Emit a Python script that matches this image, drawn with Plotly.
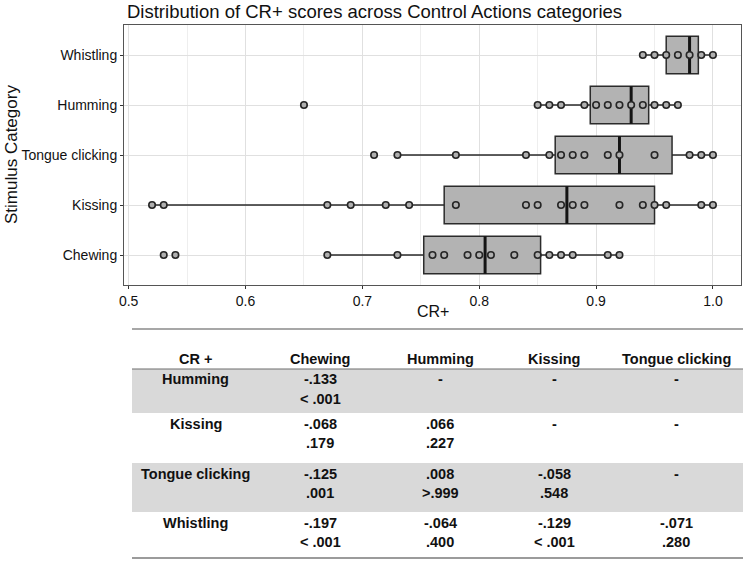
import plotly.graph_objects as go

W, H = 749, 561

# ---------------- data ----------------
categories = ["Chewing", "Kissing", "Tongue clicking", "Humming", "Whistling"]

chewing = [0.53, 0.54, 0.67, 0.73, 0.76, 0.77, 0.79, 0.80, 0.81, 0.83, 0.85, 0.86, 0.87, 0.88, 0.91, 0.92]
kissing = [0.52, 0.53, 0.67, 0.69, 0.72, 0.74, 0.78, 0.84, 0.85, 0.87, 0.88, 0.89, 0.92, 0.94, 0.95, 0.96, 0.99, 1.00]
tongue_clicking = [0.71, 0.73, 0.78, 0.84, 0.86, 0.87, 0.88, 0.89, 0.91, 0.92, 0.95, 0.98, 0.99, 1.00]
humming = [0.65, 0.85, 0.86, 0.87, 0.89, 0.90, 0.91, 0.92, 0.93, 0.94, 0.95, 0.96, 0.97]
whistling = [0.94, 0.95, 0.96, 0.97, 0.98, 0.99, 1.00]
points = [chewing, kissing, tongue_clicking, humming, whistling]

q1 = [0.7525, 0.77, 0.865, 0.895, 0.96]
median = [0.805, 0.875, 0.92, 0.93, 0.98]
q3 = [0.8525, 0.95, 0.965, 0.945, 0.9875]
lowerfence = [0.67, 0.52, 0.73, 0.85, 0.94]
upperfence = [0.92, 1.00, 1.00, 0.97, 1.00]

x_ticks = [0.5, 0.6, 0.7, 0.8, 0.9, 1.0]
x_ticklabels = ["0.5", "0.6", "0.7", "0.8", "0.9", "1.0"]

table_header = ["CR +", "Chewing", "Humming", "Kissing", "Tongue clicking"]
table_rows = ["Humming", "Kissing", "Tongue clicking", "Whistling"]
table_r = [["-.133", "-", "-", "-"],
           ["-.068", ".066", "-", "-"],
           ["-.125", ".008", "-.058", "-"],
           ["-.197", "-.064", "-.129", "-.071"]]
table_p = [["< .001", "", "", ""],
           [".179", ".227", "", ""],
           [".001", ">.999", ".548", ""],
           ["< .001", ".400", "< .001", ".280"]]

# ---------------- helpers (layout only) ----------------
def px(x):
    return x / W

def py(y):
    return 1 - y / H

FONT = "Liberation Sans, Arial, Helvetica, sans-serif"
BOX_W = 0.75
pos = list(range(1, len(categories) + 1))

fig = go.Figure()

fig.add_trace(go.Box(
    y=pos, q1=q1, median=median, q3=q3,
    lowerfence=lowerfence, upperfence=upperfence,
    orientation="h", width=BOX_W, whiskerwidth=0,
    boxpoints=False, fillcolor="#b3b3b3",
    line=dict(color="#2b2b2b", width=1.5),
    showlegend=False, hoverinfo="skip",
))

# thick median lines
mx, my = [], []
for i, m in enumerate(median):
    mx += [m, m, None]
    my += [pos[i] - BOX_W / 2, pos[i] + BOX_W / 2, None]
fig.add_trace(go.Scatter(x=mx, y=my, mode="lines",
                         line=dict(color="#141414", width=3),
                         showlegend=False, hoverinfo="skip"))

# points
px_all, py_all = [], []
for i, vals in enumerate(points):
    px_all += vals
    py_all += [pos[i]] * len(vals)
fig.add_trace(go.Scatter(x=px_all, y=py_all, mode="markers",
                         marker=dict(size=6.5, color="#b0b0b0",
                                     line=dict(color="#262626", width=1.6)),
                         showlegend=False, hoverinfo="skip"))

fig.update_layout(
    width=W, height=H,
    margin=dict(l=0, r=0, t=0, b=0),
    paper_bgcolor="white", plot_bgcolor="white",
    font=dict(family=FONT, color="#1a1a1a"),
    xaxis=dict(domain=[px(124), px(741)], range=[0.496, 1.024],
               tickvals=x_ticks, ticktext=x_ticklabels,
               tickfont=dict(size=14, color="#111111"),
               ticks="outside", ticklen=3, tickcolor="#333333",
               showgrid=True, gridcolor="#e0e0e0", gridwidth=1,
               minor=dict(dtick=0.05, tick0=0.5, showgrid=True,
                          gridcolor="#eeeeee", gridwidth=1, ticks=""),
               showline=True, linecolor="#555555", linewidth=1, mirror=True,
               zeroline=False, automargin=False, anchor="y"),
    yaxis=dict(domain=[py(285), py(25)], range=[0.4, 5.6],
               tickvals=pos, ticktext=categories,
               tickfont=dict(size=14, color="#111111"),
               ticks="outside", ticklen=3, tickcolor="#333333",
               showgrid=True, gridcolor="#e0e0e0", gridwidth=1,
               showline=True, linecolor="#555555", linewidth=1, mirror=True,
               zeroline=False, automargin=False, anchor="x"),
)

ann = []
shapes = []
# title and axis titles
ann.append(dict(text="Distribution of CR+ scores across Control Actions categories",
                x=px(125), y=py(12), xref="paper", yref="paper",
                xanchor="left", yanchor="middle", showarrow=False,
                font=dict(size=18.5, color="#111111")))
ann.append(dict(text="CR+", x=px(433), y=py(311), xref="paper", yref="paper",
                xanchor="center", yanchor="middle", showarrow=False,
                font=dict(size=16, color="#111111")))
ann.append(dict(text="Stimulus Category", x=px(11), y=py(155), xref="paper", yref="paper",
                xanchor="center", yanchor="middle", showarrow=False, textangle=-90,
                font=dict(size=17, color="#111111")))

# table
T_L, T_R = 132, 743
col_x = [196, 320, 440, 554, 676]
shade = [(369, 413), None, (463, 512), None]
row_y = [(379, 399), (424, 443), (474, 493), (523, 542)]

for s in shade:
    if s:
        shapes.append(dict(type="rect", xref="paper", yref="paper",
                           x0=px(T_L), x1=px(T_R), y0=py(s[1]), y1=py(s[0]),
                           fillcolor="#d9d9d9", line=dict(width=0), layer="below"))
for yline, col, wdt in [(329, "#8a8a8a", 1.5), (369, "#6e6e6e", 1.2), (558, "#7a7a7a", 1.5)]:
    shapes.append(dict(type="line", xref="paper", yref="paper",
                       x0=px(T_L), x1=px(T_R), y0=py(yline), y1=py(yline),
                       line=dict(color=col, width=wdt)))

TF = dict(size=14.5, color="#111111")
def b(t):
    return "<b>" + t + "</b>" if t else t

for j, h in enumerate(table_header):
    ann.append(dict(text=b(h), x=px(col_x[j]), y=py(359), xref="paper", yref="paper",
                    xanchor="center", yanchor="middle", showarrow=False, font=TF))
for i, rname in enumerate(table_rows):
    ann.append(dict(text=b(rname), x=px(col_x[0]), y=py(row_y[i][0]), xref="paper", yref="paper",
                    xanchor="center", yanchor="middle", showarrow=False, font=TF))
    for j in range(4):
        ann.append(dict(text=b(table_r[i][j]), x=px(col_x[j + 1]), y=py(row_y[i][0]),
                        xref="paper", yref="paper", xanchor="center", yanchor="middle",
                        showarrow=False, font=TF))
        if table_p[i][j]:
            ann.append(dict(text=b(table_p[i][j]), x=px(col_x[j + 1]), y=py(row_y[i][1]),
                            xref="paper", yref="paper", xanchor="center", yanchor="middle",
                            showarrow=False, font=TF))

fig.update_layout(annotations=ann, shapes=shapes)
fig.write_html("out.html")
